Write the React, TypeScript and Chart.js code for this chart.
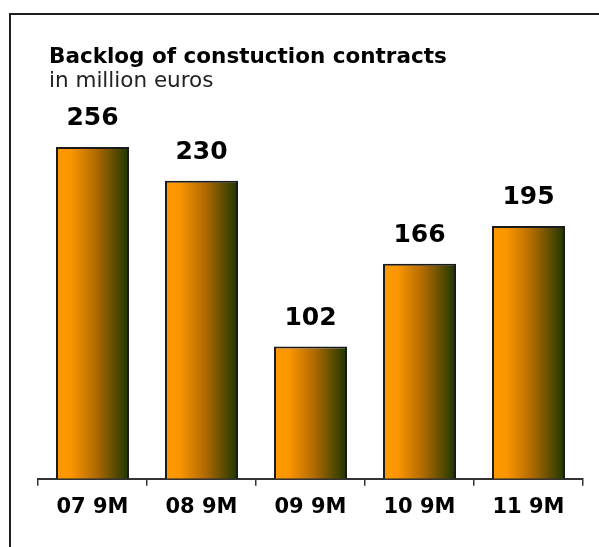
import React, { useEffect, useRef } from "react";
import { Chart, registerables } from "chart.js";

Chart.register(...registerables);

const categories = ["07 9M", "08 9M", "09 9M", "10 9M", "11 9M"];
const backlogValues = [256, 230, 102, 166, 195];
const titleText = "Backlog of constuction contracts";
const subtitleText = "in million euros";

const W = 599;
const H = 547;

const FONT = "'DejaVu Sans', Verdana, sans-serif";

const framePlugin = {
  id: "frame",
  beforeDraw(chart: any) {
    const ctx = chart.ctx;
    ctx.save();
    ctx.fillStyle = "#ffffff";
    ctx.fillRect(0, 0, W, H);
    ctx.strokeStyle = "#1e1e1e";
    ctx.lineWidth = 2;
    ctx.beginPath();
    ctx.moveTo(10, H);
    ctx.lineTo(10, 14);
    ctx.lineTo(W, 14);
    ctx.stroke();
    ctx.fillStyle = "#000000";
    ctx.textAlign = "left";
    ctx.textBaseline = "alphabetic";
    ctx.font = `bold 21.5px ${FONT}`;
    ctx.fillText(titleText, 49, 63);
    ctx.fillStyle = "#222222";
    ctx.font = `21.5px ${FONT}`;
    ctx.fillText(subtitleText, 49, 87);
    ctx.restore();
  },
};

const valueLabelPlugin = {
  id: "valueLabels",
  afterDatasetsDraw(chart: any) {
    const ctx = chart.ctx;
    const meta = chart.getDatasetMeta(0);
    ctx.save();
    ctx.fillStyle = "#000000";
    ctx.textAlign = "center";
    ctx.textBaseline = "alphabetic";
    ctx.font = `bold 25px ${FONT}`;
    meta.data.forEach((el: any, i: number) => {
      ctx.fillText(String(backlogValues[i]), el.x, el.y - 22);
    });
    ctx.restore();
  },
};

const BAR_PCT = 0.67;

export default function App() {
  const ref = useRef<HTMLCanvasElement>(null);
  useEffect(() => {
    const canvas = ref.current!;
    const chart = new Chart(canvas, {
      type: "bar",
      data: {
        labels: categories,
        datasets: [
          {
            data: backlogValues,
            backgroundColor: (c: any) => {
              const chartRef = c.chart;
              const xs = chartRef.scales?.x;
              if (!xs || c.dataIndex === undefined) return "#ff9900";
              const cx = xs.getPixelForValue(c.dataIndex);
              const half = ((xs.right - xs.left) / categories.length) * BAR_PCT / 2;
              if (!isFinite(cx) || !isFinite(half) || half <= 0) return "#ff9900";
              const g = chartRef.ctx.createLinearGradient(cx - half, 0, cx + half, 0);
              g.addColorStop(0, "#ff9900");
              g.addColorStop(0.2, "#fb9600");
              g.addColorStop(0.55, "#b06a00");
              g.addColorStop(1, "#1c3600");
              return g;
            },
            borderColor: "#1a1a1a",
            borderWidth: 2,
            categoryPercentage: 1,
            barPercentage: BAR_PCT,
          },
        ],
      },
      options: {
        responsive: false,
        animation: false,
        layout: { padding: { left: 38, right: 16, top: 90, bottom: 18 } },
        plugins: {
          legend: { display: false },
          title: { display: false },
          tooltip: { enabled: false },
        },
        scales: {
          x: {
            grid: {
              offset: true,
              drawOnChartArea: false,
              drawTicks: true,
              tickLength: 7,
              color: "#333333",
              lineWidth: 1.5,
            },
            border: { display: true, color: "#333333", width: 2 },
            ticks: {
              color: "#000000",
              padding: 9,
              font: { family: FONT, size: 21, weight: "bold" },
            },
          },
          y: {
            display: false,
            min: 0,
            max: 300,
          },
        },
      },
      plugins: [framePlugin, valueLabelPlugin],
    });
    return () => chart.destroy();
  }, []);
  return (
    <div style={{ position: "fixed", left: 0, top: 0, width: W, height: H }}>
      <canvas ref={ref} width={W} height={H} style={{ display: "block" }} />
    </div>
  );
}
